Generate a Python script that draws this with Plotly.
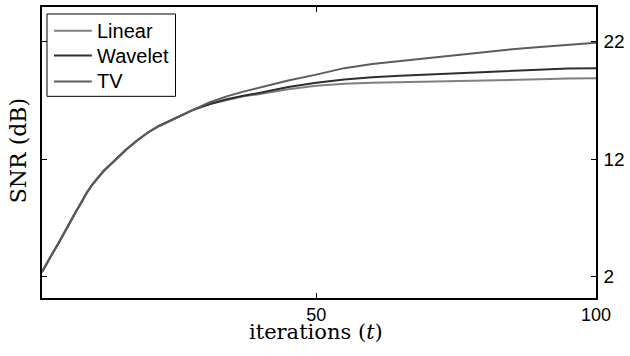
import plotly.graph_objects as go

# Iteration index
iters = [1, 2, 3, 4, 5, 6, 7, 8, 9, 10, 12, 14, 16, 18, 20, 22, 25, 28,
         31, 34, 37, 40, 45, 50, 55, 60, 65, 70, 75, 80, 85, 90, 95, 100]

# Shared early ramp (all methods coincide here)
early = [2.4, 3.3, 4.1, 4.9, 5.8, 6.7, 7.5, 8.3, 9.15, 9.85, 11.0, 11.9,
         12.8, 13.6, 14.3, 14.85, 15.55, 16.2]

snr_linear = early + [16.7, 17.05, 17.35, 17.55, 17.95, 18.25, 18.42, 18.5,
                      18.55, 18.58, 18.6, 18.65, 18.72, 18.8, 18.87, 18.9]
snr_wavelet = early + [16.7, 17.1, 17.4, 17.65, 18.15, 18.5, 18.78, 18.98,
                       19.1, 19.2, 19.3, 19.4, 19.55, 19.65, 19.72, 19.74]
snr_tv = early + [16.85, 17.35, 17.75, 18.1, 18.7, 19.2, 19.75, 20.1,
                  20.35, 20.6, 20.87, 21.1, 21.35, 21.55, 21.7, 21.9]

x_ticks = [50, 100]
y_ticks = [2, 12, 22]

series = [
    ("Linear", snr_linear, "#808080"),
    ("Wavelet", snr_wavelet, "#2e2e2e"),
    ("TV", snr_tv, "#5c5c5c"),
]

SANS = "Liberation Sans, Arial, Helvetica"
SERIF = "DejaVu Serif"

fig = go.Figure()
for name, vals, col in series:
    fig.add_trace(go.Scatter(x=iters, y=vals, mode="lines", name=name,
                             line=dict(color=col, width=2), showlegend=False))

axis_common = dict(showline=True, linecolor="black", linewidth=1.5,
                   mirror="ticks", ticks="inside", ticklen=5,
                   tickcolor="black", showgrid=False, zeroline=False)

fig.update_layout(
    width=630, height=356,
    margin=dict(l=42, r=32, t=5, b=58),
    plot_bgcolor="white", paper_bgcolor="white",
    xaxis=dict(range=[1, 100], tickvals=x_ticks, ticklabelstandoff=0,
               tickfont=dict(family=SANS, size=18, color="black"),
               **axis_common),
    yaxis=dict(range=[0.2, 24.95], tickvals=y_ticks, side="right",
               ticklabelstandoff=2,
               tickfont=dict(family=SANS, size=19, color="black"),
               **axis_common),
)

# Boxed legend in the upper-left corner of the axes
fig.add_shape(type="rect", xref="paper", yref="paper",
              x0=0.009, x1=0.241, y0=0.693, y1=0.976,
              line=dict(color="black", width=1), fillcolor="white",
              layer="above")
legend_rows = [0.918, 0.833, 0.744]
for (name, _, col), ry in zip(series, legend_rows):
    fig.add_shape(type="line", xref="paper", yref="paper",
                  x0=0.0216, x1=0.0899, y0=ry, y1=ry,
                  line=dict(color=col, width=2), layer="above")
    fig.add_annotation(text=name, xref="paper", yref="paper",
                       x=0.0955, y=ry, xanchor="left", yanchor="middle",
                       showarrow=False,
                       font=dict(family=SANS, size=20, color="black"))

fig.add_annotation(text="iterations (<i>t</i>)", xref="paper", yref="paper",
                   x=0.495, y=-0.076, xanchor="center", yanchor="top",
                   height=22, borderpad=0, valign="middle",
                   showarrow=False,
                   font=dict(family=SERIF, size=21, color="black"))
fig.add_annotation(text="SNR (dB)", xref="paper", yref="paper",
                   x=-0.043, y=0.505, xanchor="center", yanchor="middle",
                   textangle=-90, showarrow=False,
                   font=dict(family=SERIF, size=22, color="black"))

fig.write_html("out.html")
